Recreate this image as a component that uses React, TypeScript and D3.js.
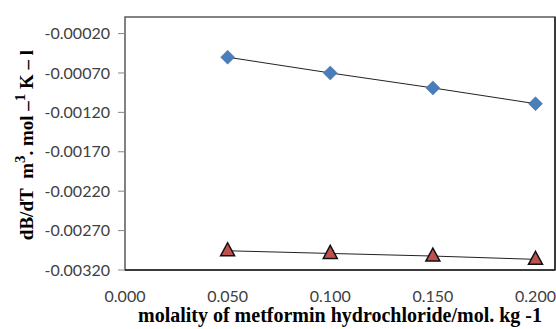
import React from "react";
import * as d3 from "d3";

const molality = [0.05, 0.1, 0.15, 0.2];
const seriesDiamond = [-0.0005, -0.0007, -0.00089, -0.00109];
const seriesTriangle = [-0.002956, -0.00299, -0.003023, -0.003065];
const yTicks = [-0.0032, -0.0027, -0.0022, -0.0017, -0.0012, -0.0007, -0.0002];
const xTicks = [0, 0.05, 0.1, 0.15, 0.2];

const W = 556, H = 329;
const L = 125, R = 555, T = 17, B = 270;

export default function App() {
  const x = d3.scaleLinear().domain([0, 0.2095]).range([L, R]);
  const y = d3.scaleLinear().domain([-0.0032, 0.00001]).range([B, T]);
  const line = d3.line<[number, number]>().x(d => x(d[0])).y(d => y(d[1]));
  const dPts: [number, number][] = molality.map((m, i) => [m, seriesDiamond[i]]);
  const tPts: [number, number][] = molality.map((m, i) => [m, seriesTriangle[i]]);
  const tickFont = "Lato, 'Open Sans', sans-serif";
  const serif = "'Liberation Serif', 'DejaVu Serif', serif";
  return (
    <svg width={W} height={H} style={{ position: "absolute", left: 0, top: 0 }}>
      <rect x={0} y={0} width={W} height={H} fill="#fff" />
      <rect x={L} y={T} width={R - L} height={B - T} fill="none" stroke="#5a5a5a" strokeWidth={1.5} />
      <line x1={R} y1={T} x2={R} y2={B} stroke="#222" strokeWidth={1.5} />
      <line x1={L} y1={B} x2={R} y2={B} stroke="#222" strokeWidth={1.5} />
      {yTicks.map(t => (
        <g key={t}>
          <line x1={L - 7} x2={L} y1={y(t)} y2={y(t)} stroke="#888" />
          <text x={L - 15} y={y(t)} dy="0.35em" textAnchor="end" fontFamily={tickFont} fontSize={16} fill="#404040">
            {t.toFixed(5)}
          </text>
        </g>
      ))}
      {xTicks.map(t => (
        <text key={t} x={x(t)} y={296} dy="0.35em" textAnchor="middle" fontFamily={tickFont} fontSize={16} fill="#404040">
          {t.toFixed(3)}
        </text>
      ))}
      <path d={line(dPts) || ""} fill="none" stroke="#222" strokeWidth={1} />
      <path d={line(tPts) || ""} fill="none" stroke="#222" strokeWidth={1} />
      {dPts.map((p, i) => {
        const cx = x(p[0]), cy = y(p[1]), s = 7;
        return (
          <path key={"d" + i} d={`M${cx},${cy - s}L${cx + s},${cy}L${cx},${cy + s}L${cx - s},${cy}Z`} fill="#4a7ebb" stroke="#3f6fa8" strokeWidth={0.5} />
        );
      })}
      {tPts.map((p, i) => {
        const cx = x(p[0]), cy = y(p[1]);
        return (
          <path key={"t" + i} d={`M${cx},${cy - 8}L${cx + 7},${cy + 5}L${cx - 7},${cy + 5}Z`} fill="#c0504d" stroke="#111" strokeWidth={1.5} strokeLinejoin="miter" />
        );
      })}
      <text x={340} y={322} textAnchor="middle" fontFamily={serif} fontWeight="bold" fontSize={20} fill="#000">
        molality of metformin hydrochloride/mol. kg -1
      </text>
      <text transform={`translate(33,145) rotate(-90)`} textAnchor="middle" fontFamily={serif} fontWeight="bold" fontSize={19} fill="#000">
        dB/dT{"\u00a0\u00a0"}m<tspan dy={-8} fontSize={15}>3</tspan><tspan dy={8}>. mol –</tspan><tspan dy={-8} fontSize={15}>1</tspan><tspan dy={8}> K – l</tspan>
      </text>
    </svg>
  );
}
